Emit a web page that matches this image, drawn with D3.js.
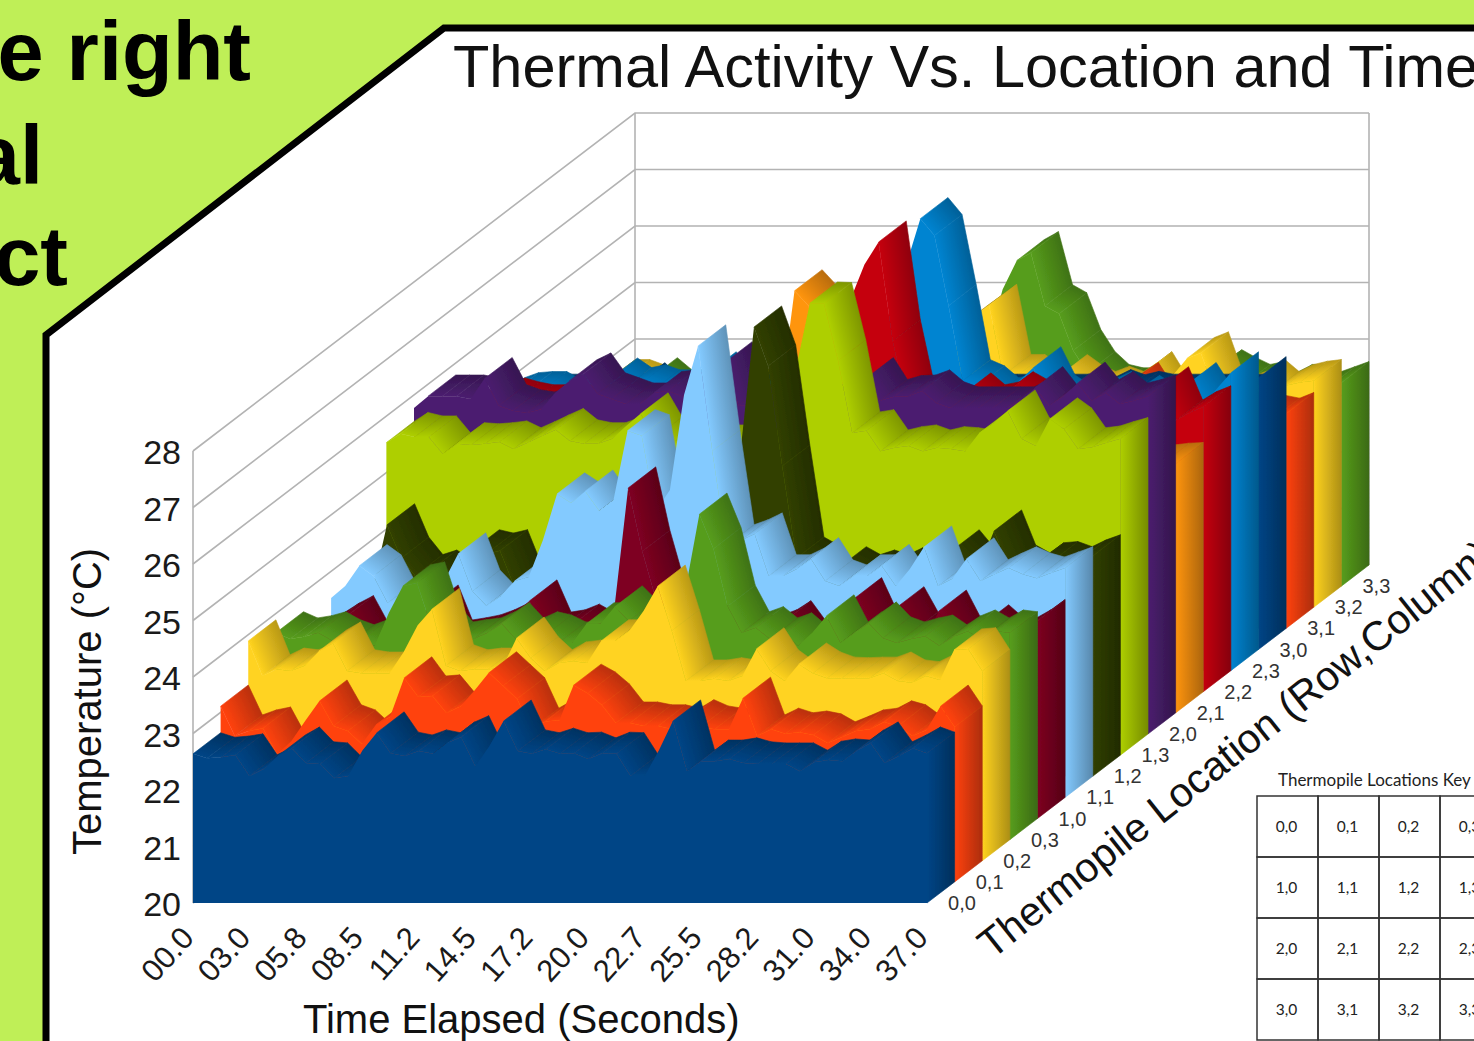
<!DOCTYPE html>
<html>
<head>
<meta charset="utf-8">
<script src="https://d3js.org/d3.v7.min.js"></script>
<style>
    html, body { margin: 0; padding: 0; background: #bfef57; overflow: hidden; }
    svg { display: block; font-family: "Liberation Sans", Arial, sans-serif; }
</style>
</head>
<body>
<svg id="chart" width="1474" height="1041"></svg>
<script>
// DATA (53 samples per location)
const locations = ["0,0","0,1","0,2","0,3","1,0","1,1","1,2","1,3","2,0","2,1","2,2","2,3","3,0","3,1","3,2","3,3"];
const colors = ["#004586","#ff420e","#ffd320","#579d1c","#7e0021","#83caff","#314004","#aecf00","#4b1f6f","#ff950e","#c5000b","#0084d1","#004586","#ff420e","#ffd320","#579d1c"];
const timeLabels = ["00.0","03.0","05.8","08.5","11.2","14.5","17.2","20.0","22.7","25.5","28.2","31.0","34.0","37.0"];
const tempTicks = [20,21,22,23,24,25,26,27,28];

const t00 = [22.64,22.56,22.58,22.62,22.25,22.37,22.6,22.74,22.48,22.46,
    22.21,22.25,22.7,23.01,22.65,22.6,22.69,22.64,22.83,22.94,
    22.42,22.78,23.22,22.69,22.64,22.72,22.64,22.65,22.55,22.65,
    22.64,22.25,22.25,22.7,23.22,22.33,22.51,22.51,22.55,22.48,
    22.46,22.46,22.46,22.33,22.49,22.53,22.51,22.69,22.83,22.48,
    22.6,22.74,22.65];
const t01 = [23.11,22.58,22.67,22.72,22.26,22.49,22.85,23.2,22.76,22.67,
    22.44,22.78,22.92,23.61,23.27,23.29,22.99,23.11,23.39,23.7,
    23.47,23.24,22.7,22.84,22.86,23.48,23.34,23.13,22.81,22.81,
    22.76,22.76,22.7,22.85,22.74,22.7,22.7,23.25,22.58,22.7,
    22.62,22.65,22.6,22.46,22.56,22.67,22.7,22.83,22.76,22.58,
    22.69,23.11,22.74];
const t02 = [23.89,23.27,23.39,23.36,23.45,23.71,23.85,23.36,23.32,23.32,
    23.32,23.69,24.17,24.45,23.45,23.36,23.39,23.39,23.41,23.94,
    23.59,23.36,23.5,23.53,23.5,23.89,23.89,24.07,24.42,24.86,
    24.07,23.18,23.18,23.22,23.18,23.27,23.75,23.36,23.18,23.48,
    23.32,23.23,23.22,23.23,23.23,23.32,23.18,23.15,23.27,23.2,
    23.73,23.75,23.36];
const t03 = [23.66,23.55,23.59,23.66,23.52,23.43,23.52,23.43,24.01,24.49,
    24.54,23.78,23.48,23.52,23.55,23.66,23.82,23.55,23.66,23.6,
    23.48,23.48,23.82,23.82,24.12,23.87,23.69,23.87,24.05,24.4,
    25.76,25.15,24.13,23.66,23.75,23.55,23.64,23.43,23.66,23.96,
    23.48,23.66,23.83,23.57,23.48,23.55,23.6,23.43,23.59,23.69,
    23.55,23.69,23.66];
const t10 = [23.14,23.28,23.44,23.57,23.11,23.05,23.05,23.11,23.5,23.76,
    23.14,23.18,23.23,23.32,23.44,23.64,23.85,23.28,23.32,23.42,
    23.28,23.28,23.67,25.85,24.73,23.85,23.67,23.5,23.41,23.32,
    23.28,23.23,23.23,23.32,23.48,23.14,23.18,23.41,23.32,23.89,
    23.35,23.14,23.73,23.28,23.14,23.67,23.19,23.19,23.41,23.19,
    23.18,23.32,23.5];
const t11 = [23.53,23.74,24.1,23.92,23.44,23.44,23.48,23.65,23.83,24.31,
    23.65,23.39,23.56,23.83,23.9,24.55,25.37,25.21,25.42,25.07,
    25.26,26.49,26.4,25.07,25.44,27.12,27.99,26.13,24.45,24.54,
    24.66,23.92,23.92,24.04,24.22,23.83,23.74,23.92,23.92,24.1,
    23.74,24.04,24.43,23.74,23.87,24.22,23.83,23.95,24.06,23.95,
    23.88,23.97,24.06];
const t12 = [23.28,23.35,24.45,23.86,23.55,23.63,23.46,23.46,23.99,23.93,
    23.99,23.37,23.37,23.37,23.46,23.55,23.55,23.46,23.46,23.63,
    23.55,23.55,23.63,23.63,23.72,23.9,24.16,25.65,27.95,27.26,
    25.49,23.86,23.72,23.46,23.69,23.55,23.63,23.55,23.67,23.46,
    23.72,23.55,23.99,23.69,23.72,24.34,23.72,23.58,23.76,23.78,
    23.69,23.81,23.9];
const t13 = [25.53,25.69,25.63,25.63,25.33,25.51,25.49,25.51,25.54,25.42,
    25.53,25.65,25.76,25.56,25.51,25.51,25.6,25.83,26.04,25.61,
    25.47,25.47,25.47,25.47,25.47,25.47,25.38,25.3,25.4,26.82,
    28.0,27.99,26.98,25.7,25.74,25.38,25.44,25.47,25.38,25.44,
    25.42,25.38,25.7,25.88,26.09,25.6,25.47,25.95,25.77,25.42,
    25.45,25.53,25.6];
const t20 = [25.77,25.98,25.98,25.98,25.93,26.29,25.81,25.72,25.68,25.75,
    26.04,26.25,26.37,26.02,25.93,25.84,25.84,26.04,26.07,25.98,
    25.98,26.07,26.57,25.81,25.81,25.81,25.81,25.81,25.81,25.81,
    25.81,26.07,26.29,25.9,25.97,25.98,26.07,25.86,25.77,25.77,
    25.77,25.77,25.77,25.9,26.13,25.81,25.98,26.21,25.9,26.04,
    25.84,25.9,25.98];
const t21 = [24.37,24.4,24.37,24.4,24.37,24.4,24.37,24.4,24.37,24.4,
    24.37,24.4,24.37,24.4,24.37,24.4,24.37,24.4,24.37,24.4,
    24.37,24.4,24.37,24.64,25.54,27.47,27.2,26.05,25.17,24.46,
    24.37,24.4,24.37,24.4,24.37,24.4,24.37,24.4,24.37,24.4,
    24.37,24.4,24.37,24.4,24.37,24.4,24.37,24.4,24.37,24.4,
    24.37,24.4,24.41];
const t22 = [25.06,25.06,25.18,25.11,25.06,25.06,25.06,25.06,25.06,25.06,
    25.06,25.06,25.06,25.06,25.06,25.06,25.06,25.06,25.06,25.06,
    25.06,25.06,25.06,25.06,25.06,25.06,25.5,26.94,27.56,27.96,
    26.21,25.06,24.97,24.97,25.06,25.27,25.06,25.11,25.29,25.15,
    25.06,25.06,25.06,25.06,25.06,25.06,25.06,24.97,25.15,25.38,
    24.79,24.94,25.04];
const t23 = [24.81,24.9,24.92,24.92,24.78,24.78,24.86,24.92,25.16,24.99,
    25.04,24.95,24.95,24.95,24.95,25.27,24.86,24.78,24.78,24.78,
    24.78,24.78,24.78,24.78,24.78,24.78,24.78,25.31,26.55,27.18,
    28.0,27.7,26.46,25.13,25.02,24.81,24.86,25.13,25.36,24.86,
    24.69,24.69,24.81,24.92,24.69,24.85,24.69,24.69,24.78,25.08,
    24.69,24.99,25.27];
const t30 = [24.5,24.5,24.5,24.5,24.5,24.5,24.5,24.53,24.7,24.44,
    24.5,24.5,24.5,24.5,24.5,24.5,24.5,24.5,24.5,24.5,
    24.5,24.5,24.5,24.5,24.5,24.5,24.5,24.5,24.5,24.5,
    24.5,24.5,24.5,24.5,24.5,24.5,24.5,24.5,24.5,24.5,
    24.46,24.58,24.49,24.55,24.5,24.5,24.5,24.5,24.5,24.5,
    24.5,24.5,24.81];
const t31 = [23.8,23.8,23.8,23.8,23.8,23.8,23.8,23.8,23.8,23.8,
    23.8,23.8,23.8,23.8,23.8,23.8,23.8,23.8,23.8,23.8,
    23.8,23.8,23.8,23.8,23.8,23.8,23.8,23.8,23.8,23.8,
    23.8,23.8,23.8,23.8,23.8,23.8,23.8,23.8,23.8,23.8,
    24.17,24.33,23.94,23.8,23.8,23.8,23.8,23.8,23.8,23.8,
    23.75,23.7,23.8];
const t32 = [23.65,23.83,24.01,24.01,23.92,23.74,23.83,23.83,23.83,23.83,
    23.83,23.83,23.83,23.83,23.83,23.83,23.83,23.83,23.83,23.83,
    23.83,23.83,23.83,23.83,23.83,23.83,23.83,24.98,25.16,25.34,
    24.1,24.1,23.92,23.83,24.1,23.92,23.8,23.89,23.8,23.96,
    24.15,23.74,24.1,24.4,24.5,23.8,23.74,23.83,24.01,23.8,
    23.92,23.98,24.01];
const t33 = [23.37,23.37,23.42,23.67,23.46,23.46,23.46,23.46,23.46,23.46,
    23.46,23.46,23.46,23.46,23.46,23.46,23.46,23.46,23.46,23.46,
    23.46,23.46,23.46,23.46,23.46,23.46,23.46,24.34,25.25,25.76,
    25.9,24.96,24.82,24.17,23.78,23.55,23.49,23.49,23.49,23.49,
    23.49,23.55,23.64,23.81,23.67,23.55,23.6,23.42,23.55,23.55,
    23.42,23.51,23.6];
const seriesValues = [t00,t01,t02,t03,t10,t11,t12,t13,t20,t21,t22,t23,t30,t31,t32,t33];

const keyRows = [["0,0","0,1","0,2","0,3"],["1,0","1,1","1,2","1,3"],["2,0","2,1","2,2","2,3"],["3,0","3,1","3,2","3,3"]];

const svg = d3.select("#chart");
const defs = svg.append("defs");

defs.append("filter").attr("id", "soft")
    .attr("x", "-2%").attr("y", "-2%").attr("width", "104%").attr("height", "104%")
    .append("feGaussianBlur").attr("stdDeviation", 0.55);

// SLIDE FRAME
svg.append("path")
    .attr("d", "M46,1060 L46,335 L444,28 L1490,28 L1490,1060 Z")
    .attr("fill", "#ffffff")
    .attr("stroke", "#000000")
    .attr("stroke-width", 7);

svg.selectAll(".slideText")
    .data([["e right", 251, 80], ["al", 43, 184], ["ct", 68, 285]])
    .join("text")
    .attr("class", "slideText")
    .attr("x", d => d[1])
    .attr("y", d => d[2])
    .attr("text-anchor", "end")
    .attr("font-size", 83)
    .attr("font-weight", "bold")
    .attr("fill", "#000")
    .text(d => d[0]);

// SCALES
const samples = d3.range(t00.length);
const xScale = d3.scalePoint().domain(samples).range([193, 927]);
const yScale = d3.scaleLinear().domain([20, 28]).range([903, 451]);
const depthX = d3.scaleLinear().domain([0, 16]).range([0, 442]);
const depthY = d3.scaleLinear().domain([0, 16]).range([0, -338]);

const stepX = depthX(1), stepY = depthY(1);

// WALLS
const walls = svg.append("g").attr("stroke", "#b3b3b3").attr("fill", "none").attr("stroke-width", 1.6);
walls.selectAll(".grid")
    .data(tempTicks)
    .join("path")
    .attr("class", "grid")
    .attr("d", d => `M${xScale(0)},${yScale(d)} L${xScale(0) + depthX(16)},${yScale(d) + depthY(16)} L${xScale(52) + depthX(16)},${yScale(d) + depthY(16)}`);
walls.append("path")
    .attr("d", `M${xScale(0)},${yScale(20)} V${yScale(28)}
                M${xScale(0) + depthX(16)},${yScale(20) + depthY(16)} V${yScale(28) + depthY(16)}
                M${xScale(52) + depthX(16)},${yScale(20) + depthY(16)} V${yScale(28) + depthY(16)}`);

// SLABS, back to front
const plot = svg.append("g").attr("filter", "url(#soft)");

function addQuad(g, k, id, p1, p2, shade) {
    // gradient runs across the slab, front edge to back edge
    const sx = p2[0] - p1[0], sy = p2[1] - p1[1];
    const len = Math.hypot(sx, sy) || 1;
    const nx = -sy / len, ny = sx / len;
    const l = stepX * nx + stepY * ny;
    const grad = defs.append("linearGradient")
        .attr("id", id)
        .attr("gradientUnits", "userSpaceOnUse")
        .attr("x1", p1[0]).attr("y1", p1[1])
        .attr("x2", p1[0] + nx * l).attr("y2", p1[1] + ny * l);
    grad.append("stop").attr("offset", 0).attr("stop-color", colors[k]);
    grad.append("stop").attr("offset", 1).attr("stop-color", d3.color(colors[k]).darker(shade).formatHex());

    g.append("path")
        .attr("d", `M${p1} L${p2} L${p2[0] + stepX},${p2[1] + stepY} L${p1[0] + stepX},${p1[1] + stepY} Z`)
        .attr("fill", `url(#${id})`)
        .attr("stroke", `url(#${id})`)
        .attr("stroke-width", 0.6);
}

d3.range(15, -1, -1).forEach(k => {
    const values = seriesValues[k];
    const g = plot.append("g").attr("class", "slab");
    const pt = i => [xScale(i) + depthX(k), yScale(values[i]) + depthY(k)];

    // top surface, only the parts that face the viewer
    samples.slice(0, -1).forEach(i => {
        const p1 = pt(i), p2 = pt(i + 1);
        const cross = (p2[0] - p1[0]) * stepY - (p2[1] - p1[1]) * stepX;
        if (cross < 0) addQuad(g, k, `q${k}_${i}`, p1, p2, 0.9);
    });

    // right side
    const end = pt(52);
    addQuad(g, k, `s${k}`, end, [end[0], yScale(20) + depthY(k)], 1.1);

    // flat front
    const area = d3.area()
        .x(i => xScale(i) + depthX(k))
        .y0(yScale(20) + depthY(k))
        .y1(i => yScale(values[i]) + depthY(k));
    g.append("path")
        .datum(samples)
        .attr("d", area)
        .attr("fill", colors[k]);
});

// AXES
const yAxis = d3.axisLeft(yScale).tickValues(tempTicks).tickSize(0).tickPadding(12).tickFormat(d3.format("d"));
const yAxisGroup = svg.append("g").attr("transform", `translate(${xScale(0)},2)`).call(yAxis);
yAxisGroup.select(".domain").remove();
yAxisGroup.selectAll("text").attr("font-size", 34).attr("font-family", "Liberation Sans").attr("fill", "#1a1a1a");

const xAxis = d3.axisBottom(xScale)
    .tickValues(samples.filter(i => i % 4 === 0))
    .tickSize(0)
    .tickFormat(i => timeLabels[i / 4]);
const xAxisGroup = svg.append("g").attr("transform", `translate(0,${yScale(20)})`).call(xAxis);
xAxisGroup.select(".domain").remove();
xAxisGroup.selectAll("text")
    .attr("font-size", 31)
    .attr("font-family", "Liberation Sans")
    .attr("fill", "#1a1a1a")
    .attr("text-anchor", "end")
    .attr("dy", 0)
    .attr("y", 0)
    .attr("transform", "translate(2,36) rotate(-48)");

// depth axis labels
svg.selectAll(".depthLabel")
    .data(locations)
    .join("text")
    .attr("class", "depthLabel")
    .attr("x", (d, i) => xScale(52) + depthX(i) + 35)
    .attr("y", (d, i) => yScale(20) + depthY(i) + 7)
    .attr("text-anchor", "middle")
    .attr("font-size", 20)
    .attr("fill", "#333")
    .text(d => d);

// TITLES
svg.append("text").attr("x", 453).attr("y", 87).attr("font-size", 59.5).attr("fill", "#111")
    .text("Thermal Activity Vs. Location and Time");
svg.append("text").attr("x", 303).attr("y", 1033).attr("font-size", 40).attr("fill", "#111")
    .text("Time Elapsed (Seconds)");
svg.append("text").attr("transform", "translate(101,855) rotate(-90)").attr("font-size", 40).attr("fill", "#111")
    .text("Temperature (°C)");
svg.append("text").attr("transform", "translate(992,960) rotate(-38.5)").attr("font-size", 41).attr("fill", "#111")
    .text("Thermopile Location (Row,Column)");

// KEY TABLE
svg.append("text").attr("x", 1278).attr("y", 786).attr("font-size", 17).attr("font-family", "Lato").attr("fill", "#222")
    .text("Thermopile Locations Key");
const cellX = d3.scaleLinear().domain([0, 1]).range([1257, 1318]);
const cellY = d3.scaleLinear().domain([0, 1]).range([796, 857]);
const cells = keyRows.flatMap((row, r) => row.map((label, c) => ({ label, r, c })));
const key = svg.append("g");
key.selectAll("rect")
    .data(cells)
    .join("rect")
    .attr("x", d => cellX(d.c))
    .attr("y", d => cellY(d.r))
    .attr("width", cellX(1) - cellX(0))
    .attr("height", cellY(1) - cellY(0))
    .attr("fill", "none")
    .attr("stroke", "#333")
    .attr("stroke-width", 1.5);
key.selectAll("text")
    .data(cells)
    .join("text")
    .attr("x", d => cellX(d.c + 0.5) - 1)
    .attr("y", d => cellY(d.r + 0.5) + 5)
    .attr("text-anchor", "middle")
    .attr("font-size", 15.5)
    .attr("font-family", "Lato")
    .attr("fill", "#222")
    .text(d => d.label);
</script>
</body>
</html>
